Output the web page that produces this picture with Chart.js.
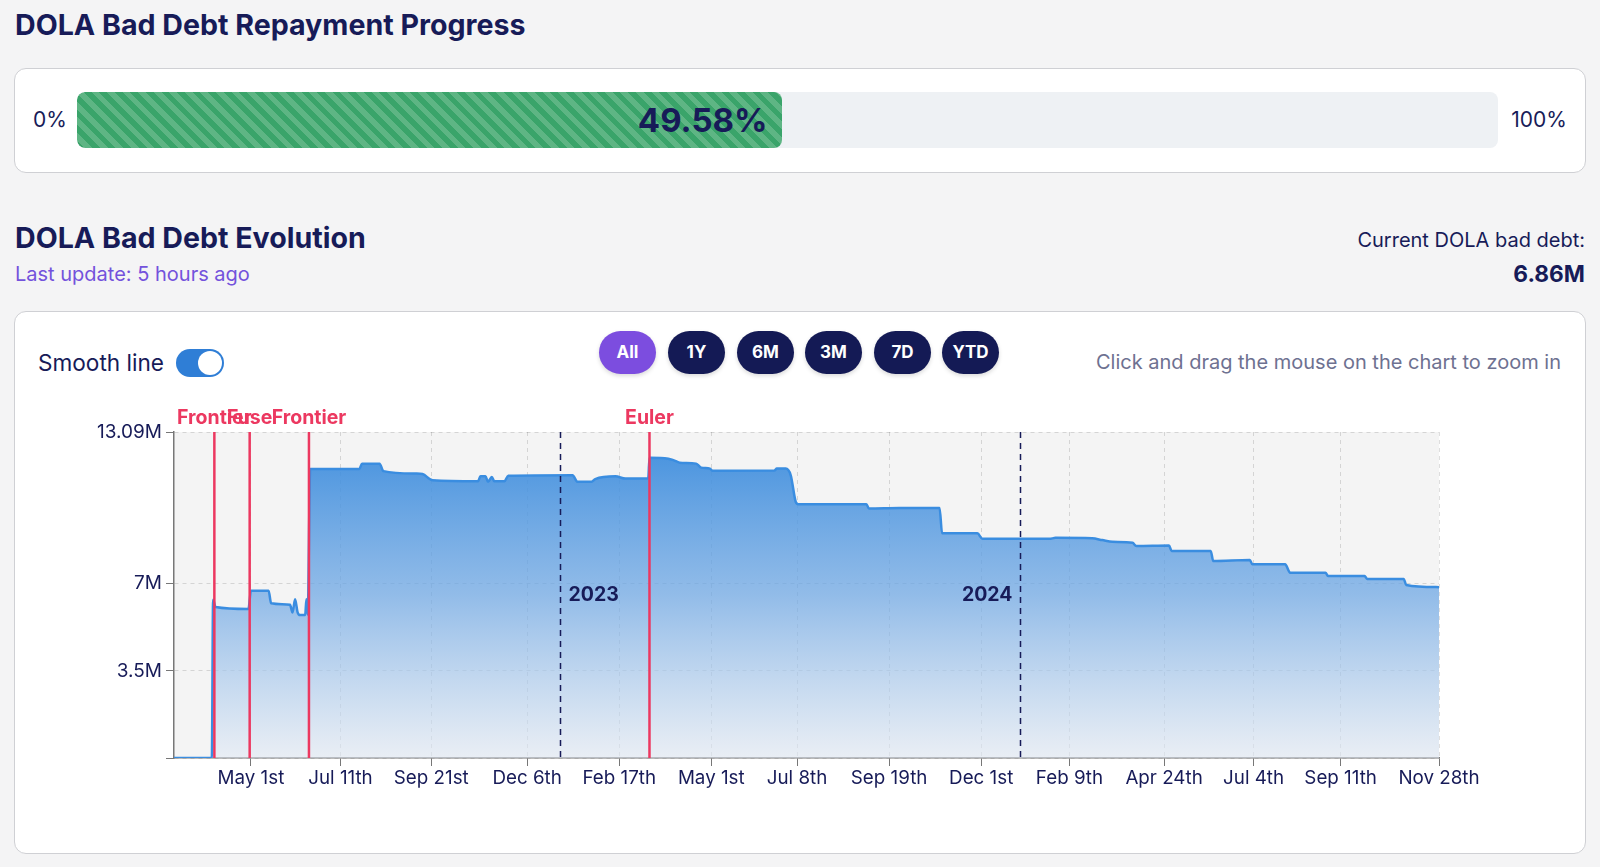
<!DOCTYPE html>
<html lang="en">
<head>
    <meta charset="UTF-8">
    <title>DOLA Bad Debt Evolution</title>
    <script src="https://cdn.jsdelivr.net/npm/chart.js"></script>
    <style>
        body {
            margin: 0;
            width: 1600px;
            height: 867px;
            position: relative;
            overflow: hidden;
            background-color: #f4f4f5;
            font-family: Inter, "Noto Sans", Arial, sans-serif;
            color: #171b58;
        }
        .abs {
            position: absolute;
            white-space: nowrap;
        }
        .title {
            font-size: 28.6px;
            font-weight: 700;
            line-height: 34px;
        }
        .card {
            position: absolute;
            background-color: #fff;
            border: 1px solid #cfd0d4;
            border-radius: 12px;
            box-sizing: border-box;
        }
        .track {
            position: absolute;
            left: 77px;
            top: 92px;
            width: 1421px;
            height: 56px;
            border-radius: 8px;
            background-color: #eef1f4;
            overflow: hidden;
        }
        .fill {
            height: 100%;
            border-radius: 8px;
            background: repeating-linear-gradient(45deg, #3aa46a 0px, #3aa46a 5.5px, #5eb584 5.5px, #5eb584 11px);
            position: relative;
        }
        .fill span {
            position: absolute;
            right: 14px;
            top: 0;
            line-height: 56px;
            font-size: 33px;
            font-weight: 700;
            color: #171b58;
        }
        .pct {
            font-size: 21px;
            line-height: 24px;
            top: 108px;
        }
        .toggle {
            position: absolute;
            left: 176px;
            top: 349px;
            width: 48px;
            height: 28px;
            border-radius: 14px;
            background-color: #2f7ed6;
        }
        .toggle div {
            position: absolute;
            right: 2px;
            top: 2px;
            width: 24px;
            height: 24px;
            border-radius: 50%;
            background-color: #fff;
        }
        .btn {
            position: absolute;
            top: 331px;
            width: 57px;
            height: 43px;
            border-radius: 22px;
            background-color: #141a55;
            color: #fff;
            font-size: 17px;
            font-weight: 700;
            line-height: 43px;
            text-align: center;
            box-shadow: 0 2px 4px rgba(0, 0, 0, 0.15);
        }
        .btn.active {
            background-color: #7c4ddf;
        }
        #chartBox {
            position: absolute;
            left: 60px;
            top: 390px;
            width: 1460px;
            height: 420px;
        }
    </style>
</head>
<body>
    <div class="abs title" style="left:15px; top:8px;">DOLA Bad Debt Repayment Progress</div>

    <div class="card" style="left:14px; top:68px; width:1572px; height:105px;"></div>
    <div class="abs pct" style="left:33px;">0%</div>
    <div class="track"><div class="fill" id="repaidFill"><span id="repaidText"></span></div></div>
    <div class="abs pct" style="right:33px;">100%</div>

    <div class="abs title" style="left:15px; top:221px;">DOLA Bad Debt Evolution</div>
    <div class="abs" style="left:15px; top:262px; font-size:20px; line-height:25px; color:#7352dc;">Last update: 5 hours ago</div>
    <div class="abs" style="right:15px; top:228px; font-size:20px; line-height:25px;">Current DOLA bad debt:</div>
    <div class="abs" style="right:15px; top:260px; font-size:22.7px; line-height:27px; font-weight:700;" id="currentDebt"></div>

    <div class="card" style="left:14px; top:311px; width:1572px; height:543px;"></div>
    <div class="abs" style="left:38px; top:349px; font-size:22.6px; line-height:28px;">Smooth line</div>
    <div class="toggle"><div></div></div>

    <div class="btn active" style="left:599px;">All</div>
    <div class="btn" style="left:668px;">1Y</div>
    <div class="btn" style="left:737px;">6M</div>
    <div class="btn" style="left:805px;">3M</div>
    <div class="btn" style="left:874px;">7D</div>
    <div class="btn" style="left:942px;">YTD</div>

    <div class="abs" style="right:39px; top:350px; font-size:20px; line-height:25px; color:#6e7191;">Click and drag the mouse on the chart to zoom in</div>

    <div id="chartBox"><canvas id="debtChart"></canvas></div>

    <script>
        // bad debt in millions of DOLA
        const dates = [
            '2022-03-01', '2022-03-31', '2022-04-01', '2022-04-03', '2022-04-29', '2022-05-01',
            '2022-05-15', '2022-05-17', '2022-06-01', '2022-06-03', '2022-06-05', '2022-06-07',
            '2022-06-09', '2022-06-13', '2022-06-14', '2022-06-15', '2022-06-17', '2022-07-26',
            '2022-07-28', '2022-08-11', '2022-08-14', '2022-09-09', '2022-09-14', '2022-09-22',
            '2022-10-28', '2022-10-30', '2022-11-03', '2022-11-05', '2022-11-08', '2022-11-10',
            '2022-11-18', '2022-11-21', '2023-01-11', '2023-01-15', '2023-01-26', '2023-01-29',
            '2023-02-14', '2023-02-22', '2023-03-12', '2023-03-13', '2023-03-28', '2023-04-01',
            '2023-04-06', '2023-04-19', '2023-04-23', '2023-04-30', '2023-05-02', '2023-06-20',
            '2023-06-22', '2023-06-29', '2023-07-03', '2023-07-07', '2023-07-09', '2023-09-01',
            '2023-09-03', '2023-09-27', '2023-10-29', '2023-10-31', '2023-11-28', '2023-12-02',
            '2024-01-24', '2024-01-29', '2024-02-27', '2024-03-06', '2024-03-14', '2024-03-30',
            '2024-04-02', '2024-04-28', '2024-04-30', '2024-05-31', '2024-06-02', '2024-07-01',
            '2024-07-03', '2024-07-29', '2024-08-02', '2024-08-30', '2024-09-01', '2024-09-30',
            '2024-10-02', '2024-10-31', '2024-11-02', '2024-11-28'
        ];
        const debtM = [
            0, 0, 6.35, 6.06, 5.98, 6.72,
            6.72, 6.21, 6.15, 5.84, 6.37, 5.85,
            5.74, 5.74, 6.37, 5.76, 11.60, 11.60,
            11.82, 11.82, 11.52, 11.42, 11.40, 11.15,
            11.11, 11.31, 11.31, 11.09, 11.28, 11.11,
            11.11, 11.33, 11.35, 11.09, 11.09, 11.20,
            11.31, 11.22, 11.22, 12.06, 12.02, 11.96,
            11.86, 11.82, 11.66, 11.62, 11.53, 11.54,
            11.62, 11.62, 11.35, 10.28, 10.19, 10.19,
            10.02, 10.04, 10.04, 9.02, 9.02, 8.80,
            8.80, 8.84, 8.82, 8.75, 8.68, 8.64,
            8.51, 8.53, 8.31, 8.31, 7.91, 7.95,
            7.78, 7.78, 7.44, 7.44, 7.31, 7.31,
            7.19, 7.19, 6.95, 6.86
        ];

        const xTickDates = ['2022-05-01', '2022-07-11', '2022-09-21', '2022-12-06', '2023-02-17', '2023-05-01',
            '2023-07-08', '2023-09-19', '2023-12-01', '2024-02-09', '2024-04-24', '2024-07-04', '2024-09-11', '2024-11-28'];
        const yTicksM = [0, 3.5, 7, 13.09];
        const xStart = '2022-03-01';
        const xEnd = '2024-11-28';

        const eventNames = ['Frontier', 'Fuse', 'Frontier', 'Euler'];
        const eventDates = ['2022-04-02', '2022-04-30', '2022-06-16', '2023-03-13'];
        const yearNames = ['2023', '2024'];
        const yearDates = ['2023-01-01', '2024-01-01'];

        const repaidPct = 49.58;
        const currentDebtM = 6.86;

        document.getElementById('repaidFill').style.width = repaidPct + '%';
        document.getElementById('repaidText').textContent = repaidPct.toFixed(2) + '%';
        document.getElementById('currentDebt').textContent = currentDebtM.toFixed(2) + 'M';

        const navy = '#171b58';
        const red = '#ec3860';
        const fontFamily = 'Inter, "Noto Sans", Arial, sans-serif';
        const months = ['Jan', 'Feb', 'Mar', 'Apr', 'May', 'Jun', 'Jul', 'Aug', 'Sep', 'Oct', 'Nov', 'Dec'];

        function ordinal(n) {
            if (n % 10 === 1 && n !== 11) return n + 'st';
            if (n % 10 === 2 && n !== 12) return n + 'nd';
            if (n % 10 === 3 && n !== 13) return n + 'rd';
            return n + 'th';
        }

        function formatDate(ms) {
            const d = new Date(ms);
            return months[d.getUTCMonth()] + ' ' + ordinal(d.getUTCDate());
        }

        const points = dates.map((d, i) => ({ x: Date.parse(d), y: debtM[i] * 1e6 }));

        const plotBackground = {
            id: 'plotBackground',
            beforeDraw(chart) {
                const { ctx, chartArea } = chart;
                ctx.save();
                ctx.fillStyle = '#f4f4f4';
                ctx.fillRect(chartArea.left, chartArea.top, chartArea.right - chartArea.left, chartArea.bottom - chartArea.top);
                ctx.restore();
            }
        };

        const markers = {
            id: 'markers',
            afterDatasetsDraw(chart) {
                const { ctx, chartArea, scales } = chart;
                ctx.save();

                // year separators
                ctx.strokeStyle = navy;
                ctx.lineWidth = 1.5;
                ctx.setLineDash([6, 5]);
                ctx.font = 'bold 19.5px ' + fontFamily;
                ctx.fillStyle = navy;
                ctx.textBaseline = 'middle';
                const midY = (chartArea.top + chartArea.bottom) / 2;
                yearDates.forEach((d, i) => {
                    const x = Math.round(scales.x.getPixelForValue(Date.parse(d))) + 0.5;
                    ctx.beginPath();
                    ctx.moveTo(x, chartArea.top);
                    ctx.lineTo(x, chartArea.bottom);
                    ctx.stroke();
                    if (i === 0) {
                        ctx.textAlign = 'left';
                        ctx.fillText(yearNames[i], x + 8, midY);
                    } else {
                        ctx.textAlign = 'right';
                        ctx.fillText(yearNames[i], x - 8, midY);
                    }
                });

                // hack events
                ctx.setLineDash([]);
                ctx.strokeStyle = red;
                ctx.lineWidth = 2.5;
                ctx.fillStyle = red;
                ctx.font = 'bold 19.5px ' + fontFamily;
                ctx.textAlign = 'center';
                ctx.textBaseline = 'middle';
                eventDates.forEach((d, i) => {
                    const x = scales.x.getPixelForValue(Date.parse(d));
                    ctx.beginPath();
                    ctx.moveTo(x, chartArea.top);
                    ctx.lineTo(x, chartArea.bottom);
                    ctx.stroke();
                    ctx.fillText(eventNames[i], x, chartArea.top - 14);
                });
                ctx.restore();
            }
        };

        const ctx = document.getElementById('debtChart').getContext('2d');
        const chart = new Chart(ctx, {
            type: 'line',
            data: {
                datasets: [{
                    data: points,
                    borderColor: '#3a8de0',
                    borderWidth: 2.5,
                    pointRadius: 0,
                    cubicInterpolationMode: 'monotone',
                    fill: 'origin',
                    backgroundColor: (c) => {
                        const area = c.chart.chartArea;
                        if (!area) return 'rgba(58, 141, 224, 0.5)';
                        const g = c.chart.ctx.createLinearGradient(0, area.top, 0, area.bottom);
                        g.addColorStop(0, 'rgba(52, 136, 220, 0.95)');
                        g.addColorStop(0.5, 'rgba(108, 166, 228, 0.72)');
                        g.addColorStop(1, 'rgba(226, 234, 245, 0.6)');
                        return g;
                    }
                }]
            },
            options: {
                responsive: true,
                maintainAspectRatio: false,
                animation: false,
                layout: {
                    padding: { top: 42, right: 81, bottom: 12, left: 0 }
                },
                plugins: {
                    legend: { display: false },
                    tooltip: { enabled: false }
                },
                scales: {
                    x: {
                        type: 'linear',
                        min: Date.parse(xStart),
                        max: Date.parse(xEnd),
                        afterBuildTicks: (scale) => {
                            scale.ticks = xTickDates.map(d => ({ value: Date.parse(d) }));
                        },
                        afterFit: (scale) => { scale.height = 40; },
                        ticks: {
                            autoSkip: false,
                            maxRotation: 0,
                            padding: 1,
                            color: navy,
                            font: { size: 18.8, family: fontFamily },
                            callback: (v) => formatDate(v)
                        },
                        grid: {
                            color: 'rgba(0, 0, 0, 0.13)',
                            tickColor: '#777',
                            tickLength: 8
                        },
                        border: { color: '#777', width: 1.5, dash: [4, 4] }
                    },
                    y: {
                        min: 0,
                        max: yTicksM[yTicksM.length - 1] * 1e6,
                        afterBuildTicks: (scale) => {
                            scale.ticks = yTicksM.map(v => ({ value: v * 1e6 }));
                        },
                        afterFit: (scale) => { scale.width = 114; },
                        ticks: {
                            padding: 4,
                            color: navy,
                            font: { size: 19, family: fontFamily },
                            callback: (v) => v === 0 ? '' : +(v / 1e6).toFixed(2) + 'M'
                        },
                        grid: {
                            color: 'rgba(0, 0, 0, 0.13)',
                            tickColor: '#777',
                            tickLength: 8
                        },
                        border: { color: '#777', width: 1.5, dash: [4, 4] }
                    }
                }
            },
            plugins: [plotBackground, markers]
        });
    </script>
</body>
</html>
